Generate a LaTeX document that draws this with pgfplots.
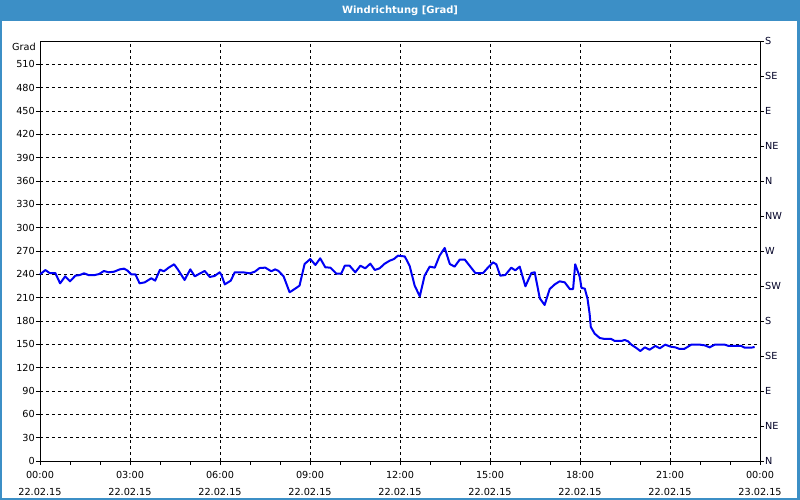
\documentclass[border=0pt]{standalone}
\usepackage{pgfplots}
\pgfplotsset{compat=1.18}
\usepackage{fontspec}
\setmainfont{DejaVu Sans}
\definecolor{titleblue}{RGB}{60,143,198}
\definecolor{lineblue}{RGB}{0,0,245}
\pgfplotstableread{
h v
0.00 240
0.18 245.5
0.32 241.7
0.51 241.7
0.67 228.4
0.84 237.4
1.00 231
1.18 238.3
1.32 239
1.47 241.3
1.62 239
1.82 239
1.97 240.4
2.13 244.3
2.29 242.6
2.47 243.4
2.66 246.4
2.80 247.3
2.91 245
3.04 240
3.18 240
3.32 228.4
3.49 229.7
3.71 234.9
3.84 231.9
4.00 246
4.13 243.9
4.29 248.6
4.47 252.9
4.60 246
4.82 232.7
5.01 246.4
5.16 237.4
5.32 240.9
5.49 244.3
5.66 236.6
5.82 237.9
5.99 242.6
6.05 239
6.16 227.1
6.36 231.9
6.49 242.6
6.77 242.6
6.99 241.3
7.16 243.4
7.32 248.1
7.51 248.6
7.71 243.9
7.84 246.4
7.95 244.3
8.12 237.4
8.32 216.9
8.47 220.7
8.65 225.4
8.82 253.3
9.01 259.7
9.18 252
9.34 260.6
9.51 249
9.68 248.6
9.88 240.9
10.04 240.9
10.16 251.1
10.32 251.1
10.51 242.6
10.68 251.1
10.84 247.7
11.01 253.7
11.16 245.6
11.32 247.7
11.49 253.7
11.66 257.6
11.80 259.7
11.93 264
12.16 263
12.32 251
12.49 225.4
12.66 211.7
12.82 238.3
12.99 249.9
13.16 248.6
13.32 264
13.49 273.9
13.66 253.3
13.82 249.9
13.99 258.9
14.16 258.9
14.32 251.1
14.51 241.7
14.77 241.7
14.93 248.6
15.10 255.4
15.21 252.9
15.34 238.3
15.51 239.1
15.71 248.6
15.84 245.1
15.99 249.9
16.18 224.6
16.38 241.7
16.49 242.6
16.66 209.1
16.82 200.6
16.99 221.1
17.16 227.1
17.32 231
17.49 229.7
17.66 221.1
17.77 221.1
17.84 252.9
17.99 237
18.05 222.5
18.16 221.6
18.25 208.7
18.32 189.4
18.36 172.3
18.49 163.7
18.66 158.1
18.82 156.9
19.04 156.9
19.16 154.3
19.38 154.3
19.49 155.6
19.60 153.9
19.71 149.6
19.88 145.3
20.01 141.4
20.16 146.1
20.32 143.1
20.51 147.9
20.66 144.9
20.84 149.6
21.02 147
21.18 146.1
21.32 144
21.47 144
21.60 147
21.71 149.6
21.99 149.6
22.16 148.7
22.32 146.1
22.49 149.6
22.82 149.6
22.96 147.9
23.38 147.9
23.49 145.7
23.71 145.7
23.82 146.6
}\winddata
\begin{document}
\begin{tikzpicture}[x=1pt,y=1pt]
\useasboundingbox (0,0) rectangle (800,500);
\fill[titleblue] (0,0) rectangle (800,500);
\fill[white] (2,2) rectangle (797,479);
\node[text=white,font=\fontsize{10}{12}\selectfont\bfseries] at (400,489.5) {Windrichtung [Grad]};
\begin{axis}[
  at={(40pt,39pt)}, anchor=south west,
  scale only axis, width=720pt, height=420pt,
  xmin=0, xmax=24, ymin=0, ymax=540,
  tick pos=left,
  tick align=outside,
  major tick length=4pt, minor tick length=4pt,
  tick style={black, line width=0.8pt},
  axis line style={black, line width=0.9pt},
  xtick={0,3,...,24},
  minor x tick num=2,
  xticklabels={{00:00\\22.02.15},{03:00\\22.02.15},{06:00\\22.02.15},{09:00\\22.02.15},{12:00\\22.02.15},{15:00\\22.02.15},{18:00\\22.02.15},{21:00\\22.02.15},{00:00\\23.02.15}},
  xticklabel style={align=center, font=\fontsize{9.7}{17}\selectfont, inner sep=1pt, yshift=-5pt},
  ytick={0,30,...,510},
  yticklabel style={font=\fontsize{9.7}{11}\selectfont, inner sep=1pt},
  /pgf/number format/assume math mode=true,
  grid=major,
  major grid style={black, line width=0.8pt, dash pattern=on 3pt off 3pt},
  clip=false,
]
\addplot[lineblue, line width=2pt, line join=round] table[x=h,y=v] {\winddata};
\node[anchor=east, font=\fontsize{9.7}{11}\selectfont, inner sep=1pt] at (axis cs:0,533) [xshift=-3pt] {Grad};
\end{axis}
\begin{axis}[
  at={(40pt,39pt)}, anchor=south west,
  scale only axis, width=720pt, height=420pt,
  xmin=0, xmax=24, ymin=0, ymax=540,
  axis x line=none,
  axis y line*=right,
  tick align=outside,
  major tick length=4pt,
  tick style={black, line width=0.8pt},
  axis line style={black, line width=0.9pt},
  ytick={0,45,...,540},
  yticklabels={N,NE,E,SE,S,SW,W,NW,N,NE,E,SE,S},
  yticklabel style={font=\fontsize{9.7}{11}\selectfont, inner sep=1pt, text=black!85!blue},
]
\end{axis}
\end{tikzpicture}
\end{document}
